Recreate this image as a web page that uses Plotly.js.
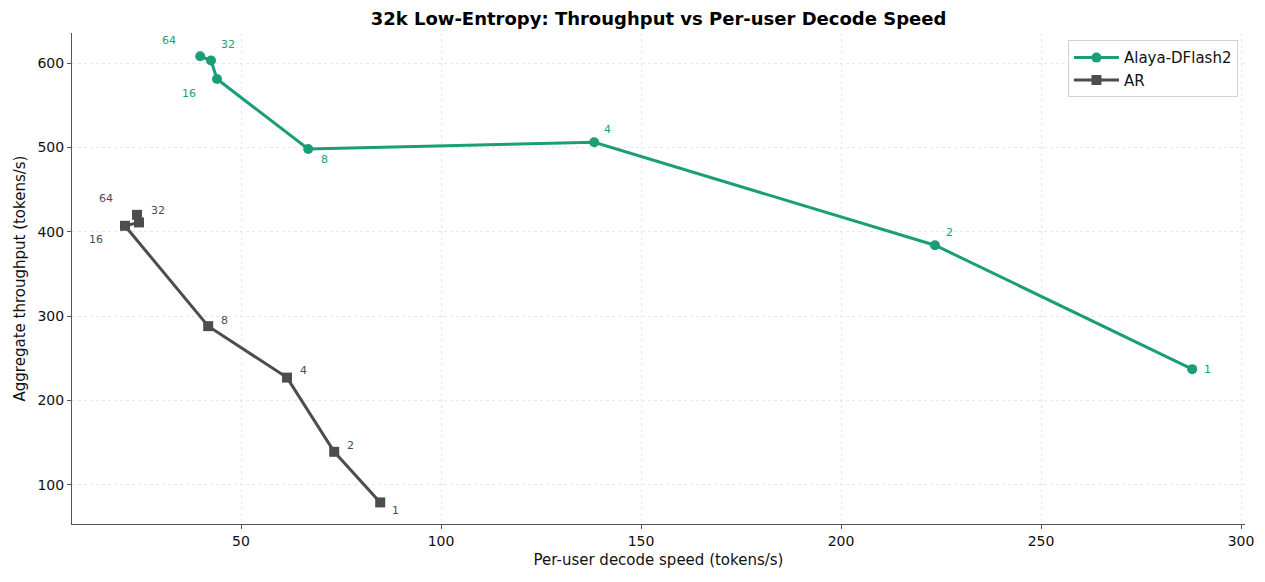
<!DOCTYPE html>
<html>
<head>
<meta charset="utf-8">
<script src="https://cdn.plot.ly/plotly-3.0.1.min.js"></script>
<style>
  html, body { margin: 0; padding: 0; background: #fff; }
  #chart { width: 1265px; height: 582px; }
</style>
</head>
<body>
<div id="chart"></div>
<script>
// Batch sizes (concurrency) shown next to each point
const batchSizes = [1, 2, 4, 8, 16, 32, 64];

// Alaya-DFlash2: per-user decode speed vs aggregate throughput
const dflashSpeed = [287.8, 223.5, 138.3, 66.8, 44.0, 42.5, 39.8];
const dflashThroughput = [237, 384, 506, 498, 581, 603, 608];

// AR baseline
const arSpeed = [84.8, 73.3, 61.5, 41.8, 21.0, 24.5, 24.0];
const arThroughput = [79, 139, 227, 288, 407, 411, 420];

// Pixel offsets of the batch-size labels relative to their points
const dflashLabelShift = [[15, 0], [14, 13], [13, 13], [16, -10], [-28, -14], [17, 16], [-31, 16]];
const arLabelShift = [[15, -8], [16, 6], [16, 7], [16, 6], [-29, -14], [19, 12], [-31, 16]];

const green = '#1b9e77';
const gray = '#4d4d4d';
const font = 'DejaVu Sans, sans-serif';

function labels(xs, ys, shifts, color) {
  return batchSizes.map((b, i) => ({
    x: xs[i], y: ys[i], text: String(b), showarrow: false,
    xshift: shifts[i][0], yshift: shifts[i][1],
    font: {family: font, size: 11, color: color}
  }));
}

const traces = [
  {
    x: dflashSpeed, y: dflashThroughput, name: 'Alaya-DFlash2',
    mode: 'lines+markers', type: 'scatter',
    line: {color: green, width: 3},
    marker: {color: green, size: 10, symbol: 'circle'}
  },
  {
    x: arSpeed, y: arThroughput, name: 'AR',
    mode: 'lines+markers', type: 'scatter',
    line: {color: gray, width: 3},
    marker: {color: gray, size: 10, symbol: 'square'}
  }
];

const axisCommon = {
  showline: true, linecolor: '#555', linewidth: 1,
  ticks: 'outside', ticklen: 4, tickcolor: '#555',
  showgrid: true, gridcolor: '#e8e8e8', griddash: 'dot', gridwidth: 1,
  zeroline: false, mirror: false,
  tickfont: {family: font, size: 14, color: '#111'}
};

const layout = {
  width: 1265, height: 582,
  margin: {l: 72, r: 20, t: 33, b: 58},
  paper_bgcolor: '#fff', plot_bgcolor: '#fff',
  title: {
    text: '<b>32k Low-Entropy: Throughput vs Per-user Decode Speed</b>',
    font: {family: font, size: 18, color: '#000'},
    xref: 'paper', x: 0.5, xanchor: 'center', y: 0.978, yanchor: 'top'
  },
  xaxis: Object.assign({}, axisCommon, {
    range: [7.75, 301], tickvals: [50, 100, 150, 200, 250, 300],
    title: {text: 'Per-user decode speed (tokens/s)', font: {family: font, size: 15, color: '#111'}, standoff: 6}
  }),
  yaxis: Object.assign({}, axisCommon, {
    range: [53.4, 635.6], tickvals: [100, 200, 300, 400, 500, 600],
    title: {text: 'Aggregate throughput (tokens/s)', font: {family: font, size: 15, color: '#111'}, standoff: 8}
  }),
  legend: {
    x: 0.994, xanchor: 'right', y: 0.985, yanchor: 'top',
    bgcolor: 'rgba(255,255,255,0.9)', bordercolor: '#d0d0d0', borderwidth: 1,
    font: {family: font, size: 15, color: '#111'},
    itemwidth: 45
  },
  annotations: labels(dflashSpeed, dflashThroughput, dflashLabelShift, green)
    .concat(labels(arSpeed, arThroughput, arLabelShift, gray)),
  showlegend: true
};

Plotly.newPlot('chart', traces, layout, {displayModeBar: false, staticPlot: true});
</script>
</body>
</html>
